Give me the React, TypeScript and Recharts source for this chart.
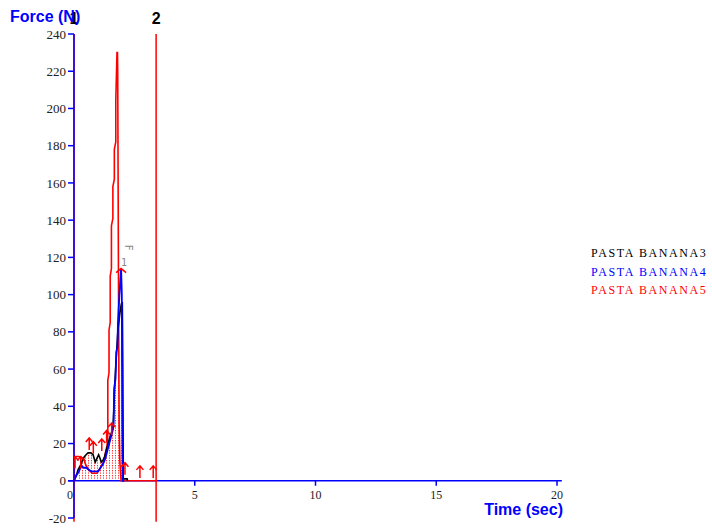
import { ComposedChart, Line, Area, Scatter, XAxis, YAxis, ReferenceLine } from 'recharts';

// ticks
const TIME_TICKS = [0, 5, 10, 15, 20];
const FORCE_TICKS = [-20, 0, 20, 40, 60, 80, 100, 120, 140, 160, 180, 200, 220, 240];
const CURSORS = [
  { id: '1', t: 0 },
  { id: '2', t: 3.4 },
];

// PASTA BANANA3 (black)
const b3Time = [0, 0.1, 0.17, 0.3, 0.37, 0.5, 0.58, 0.7, 0.79, 0.88, 0.95, 1.02, 1.08, 1.13, 1.2, 1.27, 1.35, 1.41, 1.5, 1.61, 1.65, 1.68, 1.75, 1.82, 1.9, 1.96, 2.0, 2.02, 2.04, 2.2, 2.22];
const b3Force = [0, 3, 6, 9, 12, 14, 15, 15, 14, 10, 12, 14, 12, 10, 11, 13, 17, 20, 24, 28, 38, 50, 66, 81, 90, 95, 96, 60, 1, 1, 0];

// PASTA BANANA4 (blue)
const b4Time = [0, 0.1, 0.2, 0.3, 0.4, 0.51, 0.6, 0.72, 0.85, 1.0, 1.1, 1.2, 1.3, 1.4, 1.5, 1.6, 1.64, 1.66, 1.72, 1.75, 1.8, 1.82, 1.88, 1.92, 1.95, 1.98, 2.0, 2.02, 2.08];
const b4Force = [0, 3, 5, 8, 7, 7, 6, 5, 5, 5, 7, 9, 12, 17, 22, 27, 30, 49, 55, 69, 72, 85, 100, 108, 114, 100, 30, 0, 0];

// PASTA BANANA5 (red)
const b5Time = [0, 0.03, 0.2, 0.4, 0.47, 0.6, 0.75, 0.95, 1.09, 1.23, 1.3, 1.37, 1.4, 1.4, 1.45, 1.45, 1.5, 1.5, 1.55, 1.55, 1.61, 1.61, 1.67, 1.67, 1.73, 1.73, 1.78, 1.8, 1.81, 1.83, 1.85, 1.87, 1.9, 1.95, 3.4];
const b5Force = [0, 13, 13, 12, 9, 6, 4, 4, 7, 10, 15, 19, 25, 54, 58, 81, 85, 110, 114, 137, 141, 158, 162, 178, 182, 204, 230, 230, 220, 150, 80, 30, 10, 0, 0];

// event arrows
const arrowTime = [0.04, 0.28, 0.63, 0.8, 1.15, 1.35, 1.56, 2.11, 2.73, 3.28];
const arrowForce = [13, 13, 23, 21, 22.5, 27, 31, 9.7, 8, 8];
const peakTime = [1.95];
const peakForce = [114];

const rows = (t: number[], f: number[]) => t.map((x, i) => ({ t: x, f: f[i] }));
const b3 = rows(b3Time, b3Force);
const b4 = rows(b4Time, b4Force);
const b5 = rows(b5Time, b5Force);
const arrows = rows(arrowTime, arrowForce);
const peak = rows(peakTime, peakForce);
const hatch = b3.filter((d) => d.t >= 0.17 && d.t <= 2.04);
const zeroLine = [{ t: 0, f: 0 }, { t: 20, f: 0 }];

const SERIES = [
  { name: 'PASTA BANANA3', color: '#000000' },
  { name: 'PASTA BANANA4', color: '#0000ff' },
  { name: 'PASTA BANANA5', color: '#ff0000' },
];

const W = 712;
const H = 530;
const PLOT_TOP = 34;
const PLOT_LEFT = 74;
const X_AXIS_H = 12;
const PLOT_H = H - PLOT_TOP - X_AXIS_H;
const Y_MIN = -20;
const Y_MAX = 240;
const ZERO_SHIFT = (PLOT_H * (0 - Y_MIN)) / (Y_MAX - Y_MIN);

const serif = "'Liberation Serif', 'Times New Roman', serif";
const sans = "'Liberation Sans', Arial, sans-serif";

const TimeTick = (props: any) => {
  const { x, y, payload } = props;
  const y0 = y - ZERO_SHIFT;
  const v = payload.value;
  return (
    <g>
      {v !== 0 && <line x1={x} y1={y0} x2={x} y2={y0 + 5} stroke="#0000ff" strokeWidth={1.5} />}
      <text x={v === 0 ? x - 4 : x} y={y0 + 18} textAnchor="middle" fontFamily={serif} fontSize={12} fill="#222">
        {v}
      </text>
    </g>
  );
};

const Arrow = (props: any) => {
  const { cx, cy } = props;
  return (
    <path
      d={`M${cx},${cy} L${cx},${cy + 12} M${cx - 3.5},${cy + 4} L${cx},${cy} L${cx + 3.5},${cy + 4}`}
      stroke="#ff0000"
      strokeWidth={1.5}
      fill="none"
    />
  );
};

const PeakMark = (props: any) => {
  const { cx, cy } = props;
  return (
    <g>
      <path d={`M${cx - 5},${cy + 4} L${cx},${cy} L${cx + 5},${cy + 4}`} stroke="#ff0000" strokeWidth={1.5} fill="none" />
      <text x={cx} y={cy - 3} fontFamily="'DejaVu Sans Mono', monospace" fontSize={10} fill="#888">1</text>
      <text
        x={cx + 4}
        y={cy - 24}
        fontFamily="'DejaVu Sans Mono', monospace"
        fontSize={10}
        fill="#888"
        transform={`rotate(90 ${cx + 4} ${cy - 24})`}
      >
        F
      </text>
    </g>
  );
};

export default function App() {
  return (
    <div style={{ position: 'absolute', left: 0, top: 0, width: W, height: H, background: '#fff' }}>
      <ComposedChart
        width={W}
        height={H}
        margin={{ top: PLOT_TOP, right: W - 557, bottom: 0, left: 0 }}
      >
        <defs>
          <pattern id="dots" width="3" height="2.5" patternUnits="userSpaceOnUse">
            <rect x="1" y="0" width="1" height="1.2" fill="#ff2020" />
          </pattern>
        </defs>
        <XAxis
          type="number"
          dataKey="t"
          domain={[0, 20]}
          ticks={TIME_TICKS}
          allowDataOverflow
          axisLine={false}
          tickLine={false}
          tickSize={0}
          tickMargin={0}
          height={X_AXIS_H}
          tick={<TimeTick />}
          interval={0}
        />
        <YAxis
          type="number"
          dataKey="f"
          domain={[Y_MIN, Y_MAX]}
          ticks={FORCE_TICKS}
          allowDataOverflow
          width={PLOT_LEFT}
          interval={0}
          axisLine={{ stroke: '#0000ff', strokeWidth: 1.5 }}
          tickLine={{ stroke: '#0000ff', strokeWidth: 1.5 }}
          tickSize={6}
          tickMargin={2}
          tick={{ fontFamily: serif, fontSize: 13, fill: '#222' }}
        />
        <Area
          data={hatch}
          dataKey="f"
          type="linear"
          stroke="none"
          fill="url(#dots)"
          fillOpacity={1}
          baseValue={0}
          isAnimationActive={false}
        />
        <Line data={zeroLine} dataKey="f" type="linear" stroke="#0000ff" strokeWidth={1.5} dot={false} isAnimationActive={false} />
        <ReferenceLine segment={[{ x: -0.25, y: 0 }, { x: 0, y: 0 }]} stroke="#0000ff" strokeWidth={1.5} ifOverflow="visible" />
        <ReferenceLine segment={[{ x: 20, y: 0 }, { x: 20.2, y: 0 }]} stroke="#0000ff" strokeWidth={1.5} ifOverflow="visible" />
        <Line data={b5} dataKey="f" type="linear" stroke="#ff0000" strokeWidth={1.6} dot={false} isAnimationActive={false} />
        <Line data={b3} dataKey="f" type="linear" stroke="#000000" strokeWidth={1.6} dot={false} isAnimationActive={false} />
        <Line data={b4} dataKey="f" type="linear" stroke="#0000ff" strokeWidth={1.8} dot={false} isAnimationActive={false} />
        <Scatter data={arrows} dataKey="f" shape={<Arrow />} isAnimationActive={false} />
        <Scatter data={peak} dataKey="f" shape={<PeakMark />} isAnimationActive={false} />
        {CURSORS.map((c) => (
          <ReferenceLine
            key={c.id}
            segment={[{ x: c.t, y: -22 }, { x: c.t, y: 240 }]}
            stroke="#ff0000"
            strokeWidth={1.5}
            ifOverflow="visible"
            label={{ value: c.id, position: 'top', offset: 10, fill: '#000', fontSize: 16, fontWeight: 'bold', fontFamily: sans }}
          />
        ))}
      </ComposedChart>
      <div style={{ position: 'absolute', left: 10, top: 8, fontFamily: sans, fontWeight: 'bold', fontSize: 16, color: '#0000ff' }}>
        Force (N)
      </div>
      <div style={{ position: 'absolute', right: W - 563, top: 501, fontFamily: sans, fontWeight: 'bold', fontSize: 16, color: '#0000ff' }}>
        Time (sec)
      </div>
      <div style={{ position: 'absolute', left: 591, top: 244, fontFamily: serif, fontSize: 12, letterSpacing: 1.6, lineHeight: '18.5px' }}>
        {SERIES.map((s) => (
          <div key={s.name} style={{ color: s.color }}>{s.name}</div>
        ))}
      </div>
    </div>
  );
}
